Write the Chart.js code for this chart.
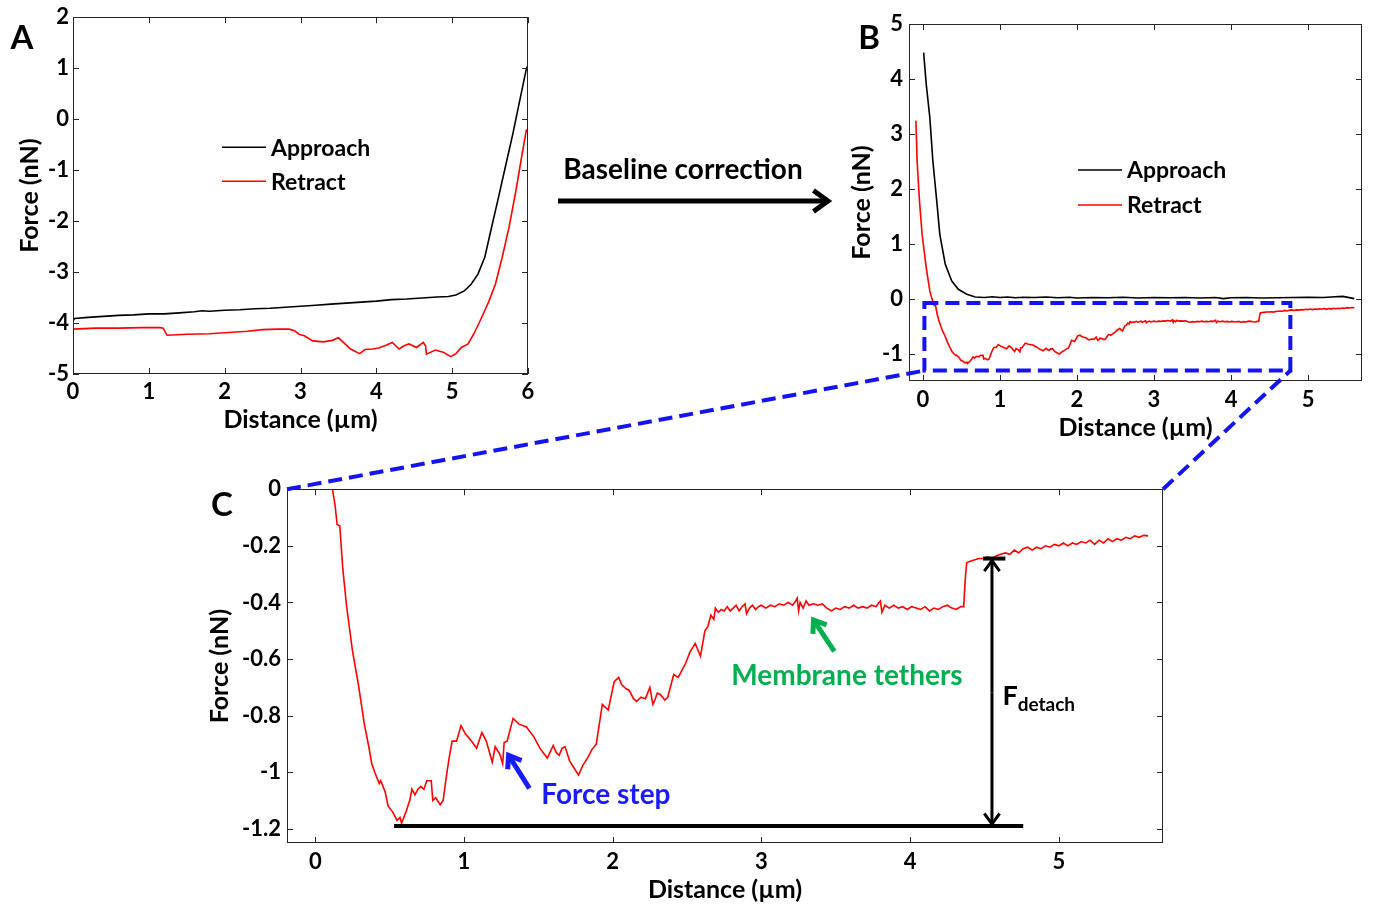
<!DOCTYPE html>
<html><head><meta charset="utf-8">
<script src="https://cdn.jsdelivr.net/npm/chart.js@4.4.1/dist/chart.umd.min.js"></script>
<style>
html,body{margin:0;padding:0;background:#fff;}
body{width:1373px;height:906px;position:relative;overflow:hidden;}
canvas{position:absolute;display:block;}
#ov{left:0;top:0;pointer-events:none;}
</style></head><body>
<canvas id="cA" width="545" height="440" style="left:0px;top:0px;width:545px;height:440px"></canvas>
<canvas id="cB" width="533" height="450" style="left:840px;top:0px;width:533px;height:450px"></canvas>
<canvas id="cC" width="980" height="436" style="left:200px;top:470px;width:980px;height:436px"></canvas>
<canvas id="ov" width="1373" height="906" style="width:1373px;height:906px"></canvas>
<script>
// ---------------- DATA ----------------
const seriesNames = ['Approach', 'Retract'];

// Panel A (raw)
const aApproachX = [0, 0.02, 0.2, 0.4, 0.6, 0.8, 1.0, 1.2, 1.4, 1.6, 1.7, 1.8, 2.0, 2.2, 2.4, 2.6, 2.8, 3.0, 3.2, 3.4, 3.6, 3.8, 4.0, 4.2, 4.4, 4.6, 4.8, 4.95, 5.05, 5.16, 5.25, 5.34, 5.43, 5.52, 5.61, 5.71, 5.8, 5.89, 5.98, 6.0];
const aApproachY = [-3.96, -3.91, -3.89, -3.87, -3.85, -3.84, -3.82, -3.82, -3.80, -3.78, -3.76, -3.77, -3.75, -3.74, -3.72, -3.71, -3.69, -3.67, -3.65, -3.63, -3.61, -3.59, -3.57, -3.54, -3.53, -3.51, -3.49, -3.48, -3.45, -3.37, -3.24, -3.04, -2.71, -2.12, -1.54, -0.88, -0.29, 0.36, 1.0, 1.05];
const aRetractX = [0, 0.3, 0.6, 0.9, 1.15, 1.19, 1.24, 1.5, 1.8, 2.0, 2.3, 2.5, 2.7, 2.85, 2.92, 2.98, 3.05, 3.16, 3.3, 3.42, 3.5, 3.58, 3.66, 3.78, 3.85, 3.95, 4.03, 4.12, 4.21, 4.3, 4.36, 4.43, 4.53, 4.62, 4.65, 4.66, 4.78, 4.89, 4.98, 5.05, 5.12, 5.21, 5.29, 5.37, 5.48, 5.57, 5.66, 5.75, 5.84, 5.93, 5.98];
const aRetractY = [-4.12, -4.10, -4.10, -4.09, -4.09, -4.10, -4.24, -4.22, -4.21, -4.19, -4.16, -4.13, -4.12, -4.12, -4.15, -4.22, -4.25, -4.35, -4.37, -4.34, -4.29, -4.40, -4.51, -4.60, -4.52, -4.51, -4.49, -4.44, -4.38, -4.51, -4.45, -4.41, -4.48, -4.38, -4.45, -4.61, -4.53, -4.58, -4.66, -4.60, -4.48, -4.41, -4.20, -3.95, -3.59, -3.24, -2.71, -2.12, -1.41, -0.62, -0.2];

// Panel B (baseline corrected approach)
const bApproachX = [0.01, 0.044, 0.09, 0.13, 0.18, 0.22, 0.29, 0.375, 0.46, 0.57, 0.68, 0.8, 0.9, 1.0, 1.1, 1.2, 1.3, 1.45, 1.6, 1.75, 1.9, 2.0, 2.2, 2.4, 2.6, 2.8, 3.0, 3.2, 3.4, 3.6, 3.8, 3.9, 4.0, 4.2, 4.4, 4.6, 4.8, 5.0, 5.2, 5.3, 5.45, 5.6];
const bApproachY = [4.48, 3.9, 3.3, 2.5, 1.78, 1.17, 0.63, 0.32, 0.17, 0.08, 0.03, 0.02, 0.035, 0.02, 0.03, 0.015, 0.025, 0.02, 0.03, 0.015, 0.025, 0.01, 0.02, 0.015, 0.025, 0.01, 0.02, 0.015, 0.02, 0.01, 0.02, 0.0, 0.015, 0.02, 0.01, 0.015, 0.02, 0.025, 0.02, 0.03, 0.04, 0.0];

// Panels B and C (baseline corrected retract) as [distance, force] pairs
const retractXY = [
  [-0.09, 3.24], [-0.075, 2.51], [-0.044, 1.78], [-0.01, 1.17], [0.044, 0.56], [0.09, 0.14], [0.116, 0.0],
  [0.134, -0.06], [0.147, -0.125], [0.165, -0.13], [0.185, -0.28], [0.21, -0.41], [0.25, -0.57], [0.29, -0.69],
  [0.31, -0.76], [0.33, -0.83], [0.36, -0.91], [0.38, -0.97], [0.40, -1.0], [0.43, -1.04], [0.44, -1.03],
  [0.47, -1.07], [0.49, -1.12], [0.52, -1.14], [0.55, -1.17], [0.57, -1.16], [0.58, -1.18], [0.61, -1.14],
  [0.635, -1.10], [0.65, -1.06], [0.67, -1.08], [0.69, -1.06], [0.71, -1.05], [0.73, -1.06], [0.75, -1.03],
  [0.78, -1.03], [0.79, -1.10], [0.81, -1.09], [0.84, -1.115], [0.86, -1.10], [0.88, -1.02], [0.90, -0.95],
  [0.92, -0.89], [0.95, -0.89], [0.98, -0.835], [1.01, -0.865], [1.05, -0.89], [1.085, -0.915], [1.12, -0.86],
  [1.15, -0.89], [1.19, -0.965], [1.21, -0.91], [1.24, -0.935], [1.26, -0.97], [1.27, -0.895], [1.29, -0.89],
  [1.33, -0.81], [1.37, -0.83], [1.42, -0.84], [1.47, -0.875], [1.51, -0.915], [1.56, -0.95], [1.60, -0.905],
  [1.62, -0.93], [1.64, -0.94], [1.66, -0.915], [1.68, -0.91], [1.71, -0.96], [1.74, -0.985], [1.77, -1.01],
  [1.80, -0.975], [1.83, -0.95], [1.86, -0.92], [1.89, -0.90], [1.91, -0.83], [1.93, -0.76], [1.97, -0.78],
  [2.01, -0.68], [2.04, -0.665], [2.06, -0.69], [2.09, -0.705], [2.11, -0.71], [2.14, -0.74], [2.16, -0.75],
  [2.19, -0.735], [2.22, -0.74], [2.25, -0.70], [2.27, -0.76], [2.28, -0.75], [2.30, -0.72], [2.32, -0.725],
  [2.35, -0.745], [2.37, -0.735], [2.41, -0.655], [2.44, -0.665], [2.46, -0.645], [2.49, -0.615], [2.52, -0.575],
  [2.555, -0.545], [2.59, -0.59], [2.62, -0.50], [2.64, -0.485], [2.66, -0.445], [2.68, -0.46], [2.69, -0.42],
  [2.71, -0.435], [2.73, -0.425], [2.75, -0.43], [2.77, -0.415], [2.79, -0.43], [2.81, -0.42], [2.83, -0.41],
  [2.85, -0.43], [2.87, -0.415], [2.89, -0.405], [2.90, -0.44], [2.92, -0.42], [2.94, -0.41], [2.96, -0.425],
  [2.98, -0.415], [3.00, -0.41], [3.03, -0.42], [3.06, -0.41], [3.09, -0.415], [3.12, -0.405], [3.15, -0.41],
  [3.18, -0.40], [3.21, -0.41], [3.23, -0.395], [3.24, -0.385], [3.25, -0.43], [3.26, -0.40], [3.28, -0.42],
  [3.30, -0.395], [3.32, -0.41], [3.35, -0.405], [3.38, -0.41], [3.41, -0.405], [3.44, -0.42], [3.47, -0.43],
  [3.50, -0.42], [3.53, -0.425], [3.56, -0.415], [3.59, -0.42], [3.62, -0.41], [3.65, -0.42], [3.68, -0.415],
  [3.71, -0.42], [3.74, -0.41], [3.77, -0.415], [3.79, -0.40], [3.80, -0.395], [3.81, -0.435], [3.83, -0.41],
  [3.86, -0.42], [3.89, -0.41], [3.92, -0.42], [3.95, -0.415], [3.98, -0.425], [4.01, -0.415], [4.04, -0.42],
  [4.07, -0.425], [4.10, -0.415], [4.13, -0.43], [4.16, -0.42], [4.19, -0.425], [4.22, -0.415], [4.25, -0.41],
  [4.28, -0.42], [4.31, -0.425], [4.34, -0.415], [4.36, -0.415], [4.37, -0.32], [4.38, -0.26], [4.40, -0.255],
  [4.43, -0.25], [4.46, -0.245], [4.49, -0.245], [4.52, -0.24], [4.55, -0.245], [4.58, -0.235], [4.61, -0.23],
  [4.64, -0.225], [4.67, -0.23], [4.70, -0.215], [4.73, -0.225], [4.76, -0.21], [4.79, -0.205], [4.82, -0.215],
  [4.85, -0.205], [4.88, -0.21], [4.91, -0.20], [4.94, -0.205], [4.97, -0.195], [5.00, -0.20], [5.03, -0.19],
  [5.06, -0.20], [5.09, -0.19], [5.12, -0.195], [5.15, -0.185], [5.18, -0.19], [5.21, -0.18], [5.24, -0.195],
  [5.27, -0.18], [5.30, -0.19], [5.33, -0.175], [5.36, -0.185], [5.39, -0.175], [5.42, -0.18], [5.45, -0.17],
  [5.48, -0.175], [5.51, -0.165], [5.54, -0.17], [5.57, -0.163], [5.60, -0.165]
];

// Tick labels
const aXTicks = [0, 1, 2, 3, 4, 5, 6];
const aYTicks = [-5, -4, -3, -2, -1, 0, 1, 2];
const bXTicks = [0, 1, 2, 3, 4, 5];
const bYTicks = [-1, 0, 1, 2, 3, 4, 5];
const cXTicks = [0, 1, 2, 3, 4, 5];
const cYTicks = [-1.2, -1, -0.8, -0.6, -0.4, -0.2, 0];

// Annotation values (data units)
const zoomBox = {x0: 0.02, x1: 4.77, y0: -1.31, y1: -0.08};
const minForce = -1.19;
const minLineX = [0.53, 4.76];
const detachLevel = -0.245;
const detachTickX = [4.49, 4.64];
const detachArrowX = 4.55;

// ---------------- RENDER ----------------
const FONT = 'Lato, "Open Sans", "DejaVu Sans", sans-serif';
Chart.defaults.font.family = FONT;
Chart.defaults.color = '#000';
const pts = (xs, ys) => xs.map((x, i) => ({x: x, y: ys[i]}));
const pairs = arr => arr.map(p => ({x: p[0], y: p[1]}));

function arrowLine(ctx, x1, y1, x2, y2, size, width, color) {
  ctx.save();
  ctx.strokeStyle = color; ctx.lineWidth = width; ctx.lineCap = 'butt'; ctx.lineJoin = 'miter';
  ctx.beginPath(); ctx.moveTo(x1, y1); ctx.lineTo(x2, y2); ctx.stroke();
  const ang = Math.atan2(y2 - y1, x2 - x1), a = Math.PI / 5;
  ctx.beginPath();
  ctx.moveTo(x2 - size * Math.cos(ang - a), y2 - size * Math.sin(ang - a));
  ctx.lineTo(x2, y2);
  ctx.lineTo(x2 - size * Math.cos(ang + a), y2 - size * Math.sin(ang + a));
  ctx.stroke();
  ctx.restore();
}

const frame = {
  id: 'frame',
  afterDatasetsDraw(chart) {
    const {ctx, chartArea: a, scales: {x, y}} = chart;
    ctx.save();
    ctx.strokeStyle = '#262626'; ctx.lineWidth = 1;
    ctx.strokeRect(Math.round(a.left) + 0.5, Math.round(a.top) + 0.5, Math.round(a.width) - 1, Math.round(a.height) - 1);
    const L = 6;
    ctx.beginPath();
    x.ticks.forEach(t => {
      const p = Math.round(x.getPixelForValue(t.value)) + 0.5;
      ctx.moveTo(p, a.bottom); ctx.lineTo(p, a.bottom - L);
      ctx.moveTo(p, a.top); ctx.lineTo(p, a.top + L);
    });
    y.ticks.forEach(t => {
      const p = Math.round(y.getPixelForValue(t.value)) + 0.5;
      ctx.moveTo(a.left, p); ctx.lineTo(a.left + L, p);
      ctx.moveTo(a.right, p); ctx.lineTo(a.right - L, p);
    });
    ctx.stroke();
    ctx.restore();
  }
};

function legendPlug(dx, dy, gap) {
  return {
    id: 'lg',
    afterDatasetsDraw(chart) {
      const {ctx, chartArea: a} = chart;
      ctx.save();
      ctx.font = 'bold 23px ' + FONT; ctx.textBaseline = 'middle'; ctx.textAlign = 'left';
      chart.data.datasets.forEach((d, i) => {
        const yy = a.top + dy + i * gap;
        ctx.strokeStyle = d.borderColor; ctx.lineWidth = 1.6;
        ctx.beginPath(); ctx.moveTo(a.left + dx, yy); ctx.lineTo(a.left + dx + 44, yy); ctx.stroke();
        ctx.fillStyle = '#000';
        ctx.fillText(d.label, a.left + dx + 49, yy + 1);
      });
      ctx.restore();
    }
  };
}

function build(id, o) {
  const axis = (min, max, tk, fitFn, tp, title, tpad) => ({
    type: 'linear', min: min, max: max,
    afterBuildTicks: s => { s.ticks = tk.map(v => ({value: v})); },
    afterFit: fitFn,
    grid: {display: false, drawTicks: false}, border: {display: false},
    ticks: {font: {size: 22, weight: 'bold'}, color: '#000', padding: tp, maxRotation: 0, autoSkip: false, callback: v => String(v)},
    title: {display: true, text: title, font: {size: 25, weight: 'bold'}, color: '#000', padding: tpad}
  });
  return new Chart(document.getElementById(id), {
    type: 'line',
    data: {datasets: o.datasets.map(d => ({label: d.label, data: d.data, borderColor: d.color, backgroundColor: d.color, borderWidth: 1.6, pointRadius: 0, fill: false, tension: 0}))},
    options: {
      responsive: false, animation: false, events: [],
      layout: {padding: o.pad},
      plugins: {legend: {display: false}, tooltip: {enabled: false}},
      scales: {
        x: axis(o.xmin, o.xmax, o.xt, s => { s.height = o.xh; }, o.xtp, 'Distance (\u00b5m)', {top: 0, bottom: o.xtb}),
        y: axis(o.ymin, o.ymax, o.yt, s => { s.width = o.yw; }, o.ytp, 'Force (nN)', {top: o.ytt, bottom: 0})
      }
    },
    plugins: [frame].concat(o.extra || [])
  });
}

const chA = build('cA', {
  datasets: [
    {label: seriesNames[0], data: pts(aApproachX, aApproachY), color: '#000000'},
    {label: seriesNames[1], data: pts(aRetractX, aRetractY), color: '#ff0000'}
  ],
  pad: {left: 0, top: 17, right: 17, bottom: 0},
  xmin: 0, xmax: 6, ymin: -5, ymax: 2, xt: aXTicks, yt: aYTicks,
  xh: 66, yw: 73, xtp: 5, ytp: 4, xtb: 5, ytt: 15,
  extra: [legendPlug(149, 130, 34)]
});

const zoomBoxPlug = {
  id: 'zb',
  afterDatasetsDraw(chart) {
    const {ctx, scales: {x, y}} = chart;
    ctx.save();
    ctx.strokeStyle = 'rgb(20,20,240)'; ctx.lineWidth = 4; ctx.setLineDash([14, 7]);
    const l = x.getPixelForValue(zoomBox.x0), r = x.getPixelForValue(zoomBox.x1);
    const t = y.getPixelForValue(zoomBox.y1), b = y.getPixelForValue(zoomBox.y0);
    ctx.strokeRect(l, t, r - l, b - t);
    ctx.restore();
  }
};

const chB = build('cB', {
  datasets: [
    {label: seriesNames[0], data: pts(bApproachX, bApproachY), color: '#000000'},
    {label: seriesNames[1], data: pairs(retractXY), color: '#ff0000'}
  ],
  pad: {left: 0, top: 24, right: 11, bottom: 0},
  xmin: -0.18, xmax: 5.7, ymin: -1.5, ymax: 5, xt: bXTicks, yt: bYTicks,
  xh: 69, yw: 69, xtp: 6, ytp: 6, xtb: 7, ytt: 7,
  extra: [legendPlug(169, 146, 35), zoomBoxPlug]
});

const cAnnot = {
  id: 'cann',
  afterDatasetsDraw(chart) {
    const {ctx, scales: {x, y}} = chart;
    const X = v => x.getPixelForValue(v), Y = v => y.getPixelForValue(v);
    ctx.save();
    ctx.strokeStyle = '#000'; ctx.lineWidth = 4;
    ctx.beginPath(); ctx.moveTo(X(minLineX[0]), Y(minForce)); ctx.lineTo(X(minLineX[1]), Y(minForce)); ctx.stroke();
    ctx.beginPath(); ctx.moveTo(X(detachTickX[0]), Y(detachLevel)); ctx.lineTo(X(detachTickX[1]), Y(detachLevel)); ctx.stroke();
    const ax = X(detachArrowX), ya = Y(detachLevel) + 2, yb = Y(minForce) - 2;
    arrowLine(ctx, ax, (ya + yb) / 2, ax, ya, 13, 3, '#000');
    arrowLine(ctx, ax, (ya + yb) / 2, ax, yb, 13, 3, '#000');
    arrowLine(ctx, X(3.49), Y(-0.573), X(3.35), Y(-0.462), 14, 5, '#00b050');
    arrowLine(ctx, X(1.44), Y(-1.057), X(1.30), Y(-0.94), 14, 5, '#1a1aff');
    ctx.textBaseline = 'middle';
    ctx.font = 'bold 28px ' + FONT; ctx.fillStyle = '#00b050'; ctx.textAlign = 'center';
    ctx.fillText('Membrane tethers', X(3.575), Y(-0.66));
    ctx.fillStyle = '#1a1aff'; ctx.textAlign = 'left';
    ctx.fillText('Force step', X(1.52), Y(-1.08));
    ctx.fillStyle = '#000';
    ctx.font = 'bold 27px ' + FONT;
    ctx.fillText('F', X(4.62), Y(-0.73));
    const fw = ctx.measureText('F').width;
    ctx.font = 'bold 19px ' + FONT;
    ctx.fillText('detach', X(4.62) + fw, Y(-0.73) + 9);
    ctx.restore();
  }
};

const chC = build('cC', {
  datasets: [
    {label: seriesNames[1], data: pairs(retractXY), color: '#ff0000'}
  ],
  pad: {left: 0, top: 17, right: 17, bottom: 0},
  xmin: -0.19, xmax: 5.7, ymin: -1.25, ymax: 0, xt: cXTicks, yt: cYTicks,
  xh: 63, yw: 87, xtp: 6, ytp: 6, xtb: 1, ytt: 5,
  extra: [cAnnot]
});

// ---------------- OVERLAY (cross-panel) ----------------
(function () {
  const ov = document.getElementById('ov');
  const o = ov.getContext('2d');
  const off = c => ({x: c.canvas.offsetLeft, y: c.canvas.offsetTop});
  const bo = off(chB), co = off(chC);
  o.font = 'bold 33px ' + FONT; o.fillStyle = '#000'; o.textAlign = 'center'; o.textBaseline = 'middle';
  o.fillText('A', 22, 38);
  o.fillText('B', 869, 38);
  o.fillText('C', 222, 505);
  o.font = 'bold 28px ' + FONT;
  o.fillText('Baseline correction', 683, 170);
  arrowLine(o, 558, 201, 828, 201, 18, 5, '#000');
  const bl = {x: bo.x + chB.scales.x.getPixelForValue(zoomBox.x0), y: bo.y + chB.scales.y.getPixelForValue(zoomBox.y0)};
  const br = {x: bo.x + chB.scales.x.getPixelForValue(zoomBox.x1), y: bl.y};
  const ca = chC.chartArea;
  o.save();
  o.strokeStyle = 'rgb(20,20,240)'; o.lineWidth = 4; o.setLineDash([14, 7]);
  o.beginPath(); o.moveTo(co.x + ca.left, co.y + ca.top); o.lineTo(bl.x, bl.y); o.stroke();
  o.beginPath(); o.moveTo(co.x + ca.right, co.y + ca.top); o.lineTo(br.x, br.y); o.stroke();
  o.restore();
})();
</script>
</body></html>
